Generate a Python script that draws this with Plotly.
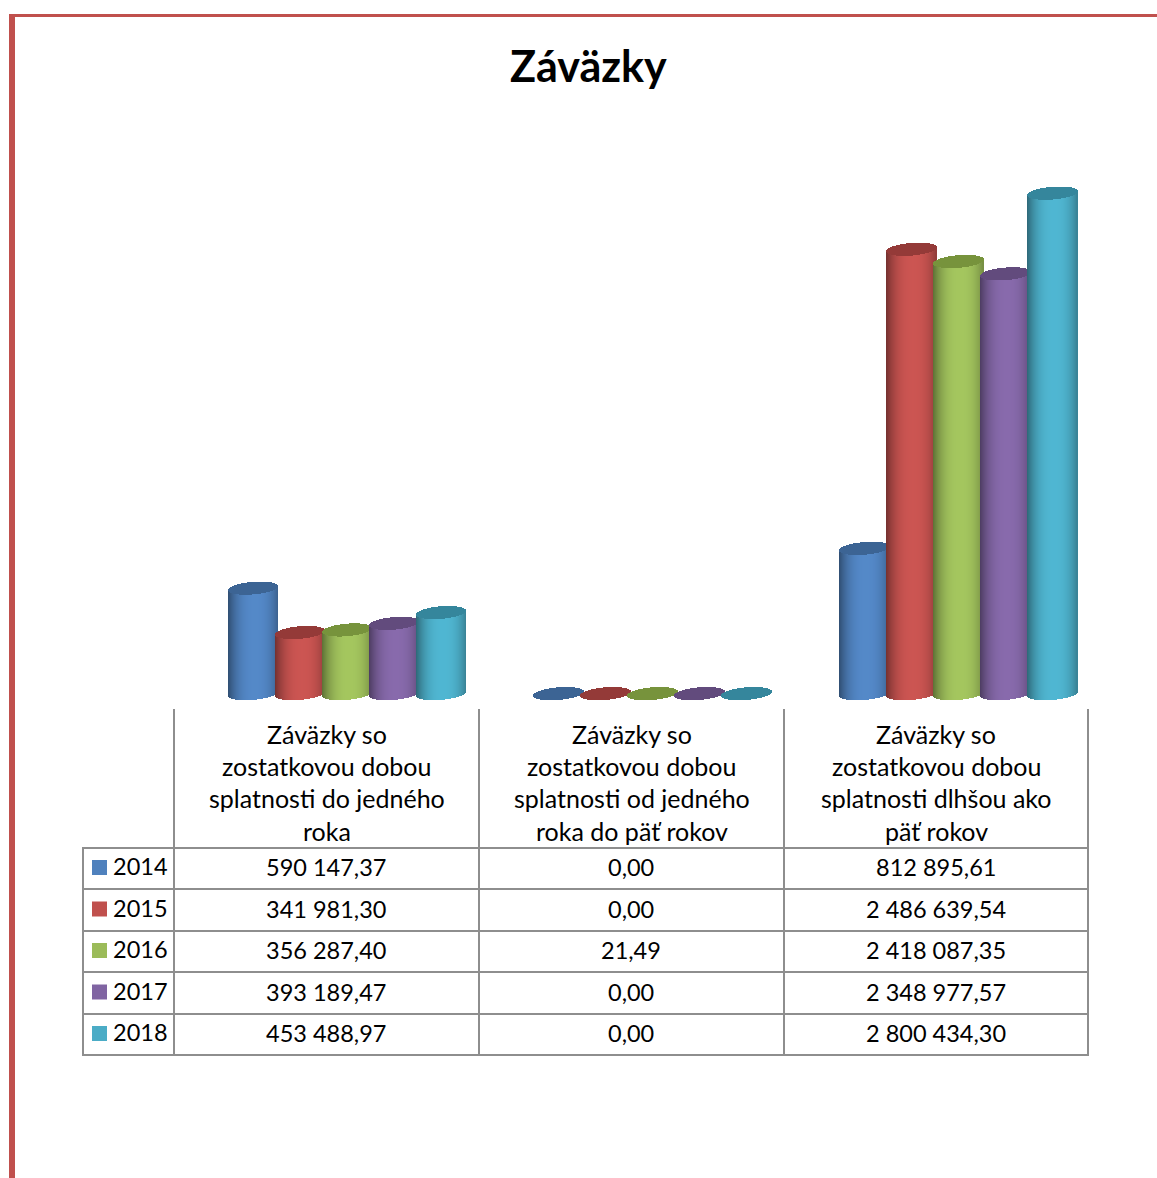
import math
import plotly.graph_objects as go

W, H = 1157, 1178
TITLE = "Záväzky"
YEARS = ["2014", "2015", "2016", "2017", "2018"]
CATEGORIES = [
    ["Záväzky so", "zostatkovou dobou", "splatnosti do jedného", "roka"],
    ["Záväzky so", "zostatkovou dobou", "splatnosti od jedného", "roka do päť rokov"],
    ["Záväzky so", "zostatkovou dobou", "splatnosti dlhšou ako", "päť rokov"],
]
V2014 = [590147.37, 0.00, 812895.61]
V2015 = [341981.30, 0.00, 2486639.54]
V2016 = [356287.40, 21.49, 2418087.35]
V2017 = [393189.47, 0.00, 2348977.57]
V2018 = [453488.97, 0.00, 2800434.30]
SERIES = [V2014, V2015, V2016, V2017, V2018]
BODY = ["#4F81BD", "#C0504D", "#9BBB59", "#8064A2", "#4BACC6"]
TOPS = ["#3C6494", "#943A38", "#77933C", "#624B7D", "#35869C"]

FONT = "Lato"
TXT = 23.5
HEAD = 25
GRID = "#8E8E8E"

# geometry in pixels
PX_PER_UNIT = 1.787e-4
Y0 = 693.6
GROUP_PX = 305.7
FIRST_GROUP = 347.0
STEP = 47.0
A, B, SLOPE = 25, 6.3, 0.08


def fmt(v):
    return f"{v:,.2f}".replace(",", " ").replace(".", ",")


def shade(hex_color, k):
    r, g, b = (int(hex_color[i:i + 2], 16) for i in (1, 3, 5))
    return "rgb(%d,%d,%d)" % tuple(min(255, round(c * k)) for c in (r, g, b))


def profile(t):
    u = abs((t - 0.08) / 1.08)
    return 0.6 + 0.46 * (1 - u ** 2.5)


fig = go.Figure()
dx_list = [d + 0.5 for d in range(-A, A)]

for s, vals in enumerate(SERIES):
    xs, bases, ys, cols, tbases, tys = [], [], [], [], [], []
    for c, v in enumerate(vals):
        cx = c + (s - 2) * STEP / GROUP_PX
        for d in dx_list:
            half = B * math.sqrt(max(0.0, 1 - (d / A) ** 2))
            tilt = SLOPE * d  # rises to the right
            low_v = (tilt - half) / PX_PER_UNIT
            top_v = v + tilt / PX_PER_UNIT
            xs.append(cx + d / GROUP_PX)
            bases.append(low_v)
            ys.append(top_v - low_v)
            cols.append(shade(BODY[s], profile(d / A)))
            tbases.append(v + low_v)
            tys.append(2 * half / PX_PER_UNIT)
    fig.add_bar(x=xs, y=ys, base=bases, width=1 / GROUP_PX,
                marker=dict(color=cols, line=dict(width=0)),
                showlegend=False, hoverinfo="skip")
    fig.add_bar(x=xs, y=tys, base=tbases, width=1 / GROUP_PX,
                marker=dict(color=TOPS[s], line=dict(width=0)),
                showlegend=False, hoverinfo="skip")

shapes, ann = [], []


def px(x):
    return x / W


def py(y):
    return 1 - y / H


def rect(x0, y0, x1, y1, color):
    shapes.append(dict(type="rect", xref="paper", yref="paper", x0=px(x0), x1=px(x1),
                       y0=py(y0), y1=py(y1), fillcolor=color, line=dict(width=0), layer="above"))


def text(x, y, s, size=TXT, anchor="center"):
    ann.append(dict(xref="paper", yref="paper", x=px(x), y=py(y), text=s,
                    showarrow=False, xanchor=anchor, yanchor="middle",
                    font=dict(family=FONT, size=size, color="#000000"),
                    borderpad=0, borderwidth=0))


# red page frame
rect(9, 14, W, 17, "#C0504D")
rect(9, 14, 15, H, "#C0504D")

# title
ann.append(dict(xref="paper", yref="paper", x=px(589), y=py(65), text=f"<b>{TITLE}</b>", showarrow=False,
                xanchor="center", yanchor="middle",
                font=dict(family=FONT, size=43, color="#000000")))

# data table
COLS = [174, 479, 784, 1088]
ROWS = [848, 889, 931, 972, 1014, 1055]
LEFT = 83
for yy in ROWS:
    rect(LEFT - 1, yy - 1, COLS[-1] + 1, yy + 1, GRID)
rect(LEFT - 1, ROWS[0] - 1, LEFT + 1, ROWS[-1] + 1, GRID)
for xx in COLS:
    rect(xx - 1, 709, xx + 1, ROWS[-1] + 1, GRID)

for c, lines in enumerate(CATEGORIES):
    cx = (COLS[c] + COLS[c + 1]) / 2
    for i, line in enumerate(lines):
        text(cx, 733.8 + i * 32.3, line, size=HEAD)

for s, year in enumerate(YEARS):
    yc = (ROWS[s] + ROWS[s + 1]) / 2
    rect(92, yc - 8.5, 107, yc + 6.5, BODY[s])
    text(113, yc - 2.3, year, anchor="left")
    for c in range(3):
        text((COLS[c] + COLS[c + 1]) / 2 - 0.5, yc - 1.2, fmt(SERIES[s][c]))

fig.update_layout(
    width=W, height=H, margin=dict(l=0, r=0, t=0, b=0, pad=0),
    paper_bgcolor="white", plot_bgcolor="white", barmode="overlay",
    bargap=0, showlegend=False, hovermode=False,
    xaxis=dict(visible=False, range=[-FIRST_GROUP / GROUP_PX, (W - FIRST_GROUP) / GROUP_PX], fixedrange=True),
    yaxis=dict(visible=False, range=[(Y0 - H) / PX_PER_UNIT, Y0 / PX_PER_UNIT], fixedrange=True),
    shapes=shapes, annotations=ann,
)
fig.write_html("out.html", config={"displayModeBar": False},
               post_script="document.body.style.margin='0';document.body.style.overflow='hidden';")
